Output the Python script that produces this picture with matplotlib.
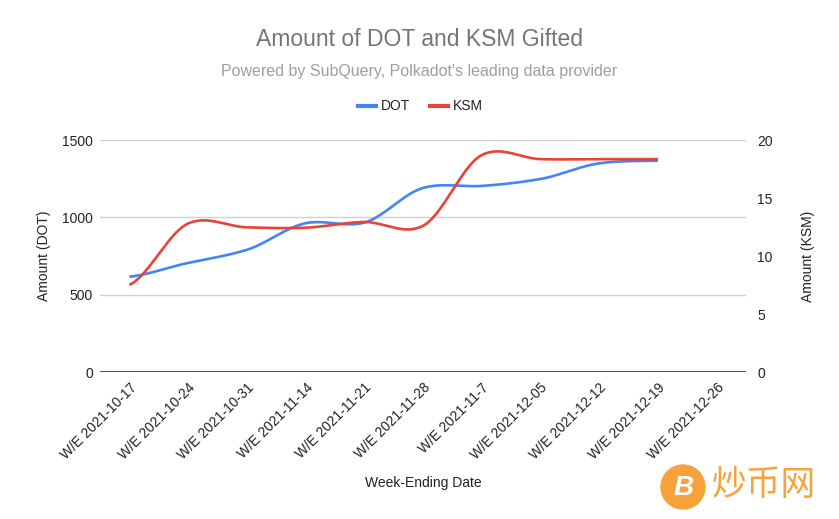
import numpy as np
import matplotlib
matplotlib.use("Agg")
from matplotlib import pyplot as plt
from matplotlib.patches import Circle

weeks = ["W/E 2021-10-17", "W/E 2021-10-24", "W/E 2021-10-31", "W/E 2021-11-14",
         "W/E 2021-11-21", "W/E 2021-11-28", "W/E 2021-11-7", "W/E 2021-12-05",
         "W/E 2021-12-12", "W/E 2021-12-19", "W/E 2021-12-26"]
dot_gifted = [616, 705, 790, 962, 966, 1190, 1203, 1248, 1349, 1366]
ksm_gifted = [7.5, 12.8, 12.47, 12.44, 12.93, 12.6, 18.7, 18.35, 18.35, 18.35]

BLUE = "#4285f4"
RED = "#ea4335"


def smooth(y, n=40, k=0.45):
    '''hermite curve through the points, a bit like the sheets "smooth" option'''
    y = np.asarray(y, dtype=float)
    m = len(y)
    t = np.zeros(m)
    for i in range(m):
        if i == 0:
            t[i] = (y[1] - y[0]) * k
        elif i == m - 1:
            t[i] = (y[-1] - y[-2]) * k
        else:
            t[i] = (y[i + 1] - y[i - 1]) * k
    xs, ys = [], []
    for i in range(m - 1):
        s = np.linspace(0, 1, n, endpoint=(i == m - 2))
        h00 = 2 * s**3 - 3 * s**2 + 1
        h10 = s**3 - 2 * s**2 + s
        h01 = -2 * s**3 + 3 * s**2
        h11 = s**3 - s**2
        xs.append(i + s)
        ys.append(h00 * y[i] + h10 * t[i] + h01 * y[i + 1] + h11 * t[i + 1])
    return np.concatenate(xs), np.concatenate(ys)


plt.rcParams['font.family'] = ['Liberation Sans', 'DejaVu Sans']
fig = plt.figure(figsize=(8.39, 5.19), dpi=100)
ax = fig.add_axes([100 / 839, 1 - 372 / 519, 646 / 839, 232 / 519])
ax2 = ax.twinx()

x = np.arange(len(weeks))
dx, dy = smooth(dot_gifted)
kx, ky = smooth(ksm_gifted)
ax.plot(dx, dy, color=BLUE, lw=1.9, solid_capstyle="butt", zorder=3)
ax2.plot(kx, ky, color=RED, lw=1.9, solid_capstyle="butt", zorder=3)

ax.set_xlim(-0.5, len(weeks) - 0.5)
ax.set_ylim(0, 1500)
ax2.set_ylim(0, 20)
ax.set_yticks([0, 500, 1000, 1500])
ax2.set_yticks([0, 5, 10, 15, 20])
ax.set_xticks(x)
ax.set_xticklabels(weeks, rotation=45, ha="right", rotation_mode="anchor", fontsize=10, color="#222222")
ax.grid(axis="y", color="#d0d0d0", lw=1)
ax.set_axisbelow(True)

for a in (ax, ax2):
    for sp in a.spines.values():
        sp.set_visible(False)
    a.tick_params(length=0, labelsize=10, colors="#222222")
ax.tick_params(axis="x", pad=6)
ax.tick_params(axis="y", pad=5)
ax2.tick_params(axis="y", pad=8)
ax.axhline(0, color="#555555", lw=1.5, zorder=2)

ax.set_ylabel("Amount (DOT)", fontsize=10, color="#222222", labelpad=8)
ax2.set_ylabel("Amount (KSM)", fontsize=10, color="#222222", labelpad=20)
ax.set_xlabel("Week-Ending Date", fontsize=10, color="#222222", labelpad=10)

fig.text(0.5, 1 - 40 / 519, "Amount of DOT and KSM Gifted", ha="center", va="center",
         fontsize=16.5, color="#757575")
fig.text(0.5, 1 - 72 / 519, "Powered by SubQuery, Polkadot's leading data provider",
         ha="center", va="center", fontsize=11.5, color="#9e9e9e")

# legend drawn by hand
ly = 1 - 106 / 519
fig.lines.append(plt.Line2D([358 / 839, 376 / 839], [ly, ly], color=BLUE, lw=3, transform=fig.transFigure))
fig.text(381 / 839, ly, "DOT", va="center", fontsize=10, color="#222222")
fig.lines.append(plt.Line2D([430 / 839, 448 / 839], [ly, ly], color=RED, lw=3, transform=fig.transFigure))
fig.text(453 / 839, ly, "KSM", va="center", fontsize=10, color="#222222")

# watermark
orange = "#f7a33c"
wm = fig.add_axes([0, 0, 1, 1], facecolor="none")
wm.set_xlim(0, 839)
wm.set_ylim(519, 0)
wm.axis("off")
wm.add_patch(Circle((683, 487), 22, color=orange))
wm.text(684, 488, "B", ha="center", va="center", fontsize=20, fontweight="bold",
        fontstyle="italic", color="white")
wm.text(712, 486, "炒币网", ha="left", va="center", fontsize=25, color=orange,
        family=["Noto Sans CJK SC", "DejaVu Sans"])

plt.savefig("out.png", dpi=100)
